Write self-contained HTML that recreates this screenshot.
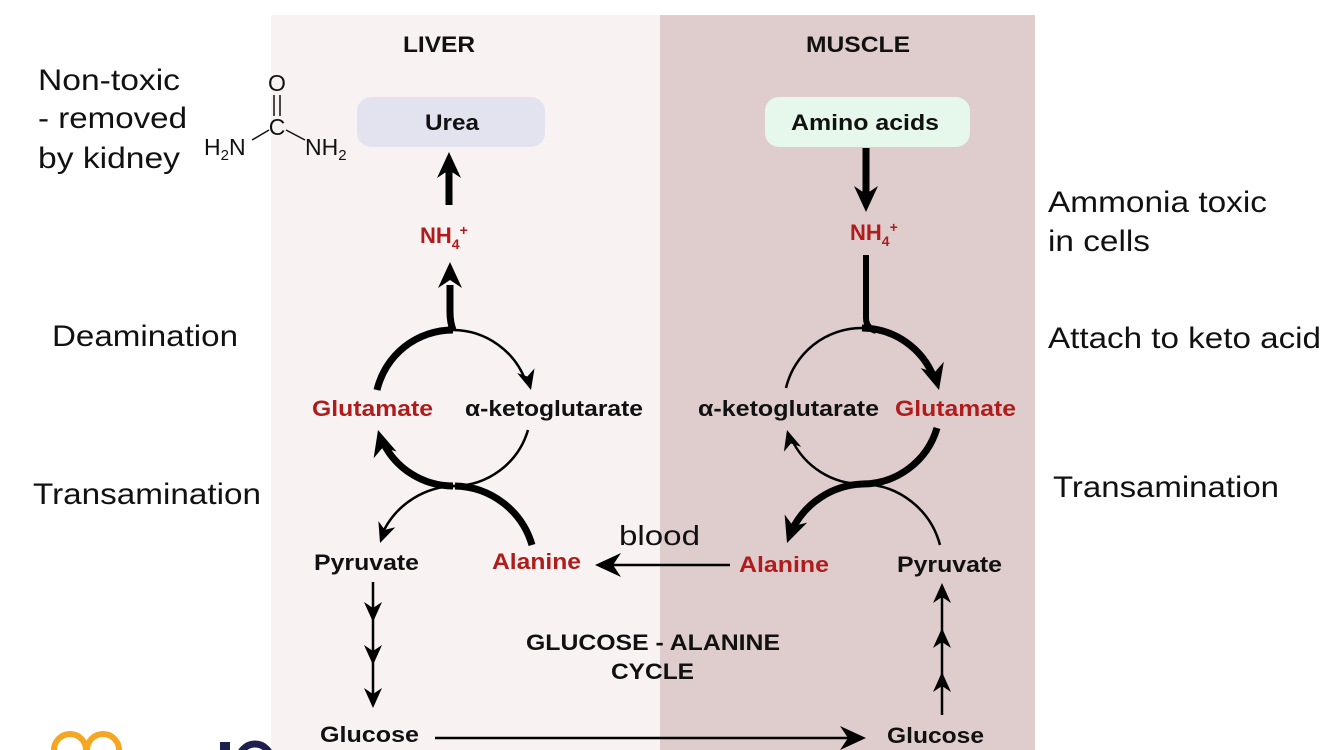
<!DOCTYPE html>
<html><head><meta charset="utf-8"><style>
html,body{margin:0;padding:0;background:#fff;}
svg{display:block;}
text{font-family:"Liberation Sans",Arial,sans-serif;}
.b{font-weight:bold;font-size:22px;fill:#111;}
.r{fill:#b01c1c;}
.big{font-size:30px;fill:#111;}
</style></head><body>
<svg width="1334" height="750" viewBox="0 0 1334 750" xmlns="http://www.w3.org/2000/svg">
<defs>
<path id="ah" d="M0,0 L-26,-12 L-18,0 L-26,12Z" fill="#000"/>
<path id="ahs" d="M0,0 L-20,-9 L-14,0 L-20,9Z" fill="#000"/>
</defs>
<rect x="271" y="15" width="389" height="735" fill="#f8f2f2"/>
<rect x="660" y="15" width="375" height="735" fill="#dfcdce"/>

<text x="403" y="52" class="b" textLength="72" lengthAdjust="spacingAndGlyphs">LIVER</text>
<text x="806" y="52" class="b" textLength="104" lengthAdjust="spacingAndGlyphs">MUSCLE</text>

<rect x="357" y="97" width="188" height="50" rx="14" fill="#e3e3ef"/>
<text x="425" y="130" class="b" textLength="54" lengthAdjust="spacingAndGlyphs">Urea</text>
<rect x="765" y="97" width="205" height="50" rx="14" fill="#e6f8eb"/>
<text x="791" y="130" class="b" textLength="148" lengthAdjust="spacingAndGlyphs">Amino acids</text>

<!-- urea structure -->
<g font-size="23" fill="#111" stroke="none">
<text x="277" y="91" text-anchor="middle">O</text>
<text x="277" y="135" text-anchor="middle">C</text>
<text x="204" y="155">H<tspan font-size="15" dy="5">2</tspan><tspan dy="-5">N</tspan></text>
<text x="305" y="155">NH<tspan font-size="15" dy="5">2</tspan></text>
</g>
<g stroke="#111" stroke-width="1.5">
<line x1="274" y1="95" x2="274" y2="116"/><line x1="280" y1="95" x2="280" y2="116"/>
<line x1="252" y1="140" x2="269" y2="130"/><line x1="286" y1="130" x2="305" y2="140"/>
</g>

<!-- side labels -->
<text x="38" y="90" class="big" textLength="142" lengthAdjust="spacingAndGlyphs">Non-toxic</text>
<text x="38" y="128" class="big" textLength="149" lengthAdjust="spacingAndGlyphs">- removed</text>
<text x="38" y="168" class="big" textLength="142" lengthAdjust="spacingAndGlyphs">by kidney</text>
<text x="52" y="346" class="big" textLength="186" lengthAdjust="spacingAndGlyphs">Deamination</text>
<text x="33" y="504" class="big" textLength="228" lengthAdjust="spacingAndGlyphs">Transamination</text>
<text x="1048" y="212" class="big" textLength="219" lengthAdjust="spacingAndGlyphs">Ammonia toxic</text>
<text x="1048" y="251" class="big" textLength="102" lengthAdjust="spacingAndGlyphs">in cells</text>
<text x="1048" y="348" class="big" textLength="273" lengthAdjust="spacingAndGlyphs">Attach to keto acid</text>
<text x="1053" y="497" class="big" textLength="226" lengthAdjust="spacingAndGlyphs">Transamination</text>

<!-- NH4 labels -->
<text x="420" y="243" class="b r">NH<tspan font-size="14" dy="6">4</tspan><tspan font-size="14" dy="-14">+</tspan></text>
<text x="850" y="240" class="b r">NH<tspan font-size="14" dy="6">4</tspan><tspan font-size="14" dy="-14">+</tspan></text>

<!-- node labels -->
<text x="312" y="416" class="b r" textLength="121" lengthAdjust="spacingAndGlyphs">Glutamate</text>
<text x="465" y="416" class="b" textLength="178" lengthAdjust="spacingAndGlyphs">α-ketoglutarate</text>
<text x="698" y="416" class="b" textLength="181" lengthAdjust="spacingAndGlyphs">α-ketoglutarate</text>
<text x="895" y="416" class="b r" textLength="121" lengthAdjust="spacingAndGlyphs">Glutamate</text>
<text x="314" y="570" class="b" textLength="105" lengthAdjust="spacingAndGlyphs">Pyruvate</text>
<text x="492" y="569" class="b r" textLength="89" lengthAdjust="spacingAndGlyphs">Alanine</text>
<text x="739" y="572" class="b r" textLength="90" lengthAdjust="spacingAndGlyphs">Alanine</text>
<text x="897" y="572" class="b" textLength="105" lengthAdjust="spacingAndGlyphs">Pyruvate</text>
<text x="320" y="742" class="b" textLength="99" lengthAdjust="spacingAndGlyphs">Glucose</text>
<text x="887" y="743" class="b" textLength="97" lengthAdjust="spacingAndGlyphs">Glucose</text>
<text x="619" y="545" font-size="28" fill="#111" textLength="81" lengthAdjust="spacingAndGlyphs">blood</text>
<text x="526" y="650" class="b" textLength="254" lengthAdjust="spacingAndGlyphs">GLUCOSE - ALANINE</text>
<text x="611" y="679" class="b" textLength="83" lengthAdjust="spacingAndGlyphs">CYCLE</text>

<g fill="none" stroke="#000">
<!-- liver -->
<line x1="449" y1="205" x2="449" y2="170" stroke-width="7"/>
<path d="M453,330 Q450,322 450,312 L450,285" stroke-width="7"/>
<path d="M377,390 A78,78 0 0 1 453,330" stroke-width="7"/>
<path d="M453,330 A78,78 0 0 1 526,382" stroke-width="2.5"/>
<path d="M528,430 A78,78 0 0 1 453,486" stroke-width="2.5"/>
<path d="M453,486 A78,78 0 0 1 382,440" stroke-width="7"/>
<path d="M455,486 A82,82 0 0 0 384,530" stroke-width="2.5"/>
<path d="M532,545 A82,82 0 0 0 455,486" stroke-width="7"/>
<line x1="373" y1="582" x2="373" y2="700" stroke-width="2.5"/>
<line x1="730" y1="565" x2="605" y2="565" stroke-width="2.5"/>
<line x1="435" y1="738" x2="855" y2="738" stroke-width="2.5"/>
<!-- muscle -->
<line x1="866" y1="148" x2="866" y2="195" stroke-width="7"/>
<path d="M866,255 L866,318 Q866,328 876,331" stroke-width="6"/>
<path d="M786,388 A78,78 0 0 1 862,328" stroke-width="2.5"/>
<path d="M862,328 A78,78 0 0 1 934,378" stroke-width="7"/>
<path d="M937,428 A78,78 0 0 1 862,484" stroke-width="7"/>
<path d="M862,484 A78,78 0 0 1 792,440" stroke-width="2.5"/>
<path d="M862,484 A82,82 0 0 0 792,530" stroke-width="7"/>
<path d="M940,545 A82,82 0 0 0 862,484" stroke-width="2.5"/>
<line x1="942" y1="715" x2="942" y2="595" stroke-width="2.5"/>
</g>

<!-- arrowheads -->
<use href="#ah" transform="translate(449,152) rotate(-90)"/>
<use href="#ah" transform="translate(450,262) rotate(-90)"/>
<use href="#ahs" transform="translate(531,390) rotate(75)"/>
<use href="#ah" transform="translate(378,430) rotate(-106)"/>
<use href="#ahs" transform="translate(380,543) rotate(110)"/>
<use href="#ahs" transform="translate(373,622) rotate(90)"/>
<use href="#ahs" transform="translate(373,665) rotate(90)"/>
<use href="#ahs" transform="translate(373,708) rotate(90)"/>
<use href="#ah" transform="translate(595,565) rotate(180)"/>
<use href="#ah" transform="translate(866,738)"/>
<use href="#ah" transform="translate(866,212) rotate(90)"/>
<use href="#ah" transform="translate(939,390) rotate(75)"/>
<use href="#ahs" transform="translate(787,430) rotate(-106)"/>
<use href="#ah" transform="translate(787,543) rotate(110)"/>
<use href="#ahs" transform="translate(942,583) rotate(-90)"/>
<use href="#ahs" transform="translate(942,628) rotate(-90)"/>
<use href="#ahs" transform="translate(942,672) rotate(-90)"/>

<!-- logo fragment -->
<circle cx="70" cy="750" r="16" fill="none" stroke="#f5a623" stroke-width="6"/>
<circle cx="103" cy="750" r="16" fill="none" stroke="#f5a623" stroke-width="6"/>
<rect x="220" y="742" width="10" height="8" fill="#1d1f4f"/>
<circle cx="255" cy="760" r="16" fill="none" stroke="#1d1f4f" stroke-width="7"/>
</svg>
</body></html>
